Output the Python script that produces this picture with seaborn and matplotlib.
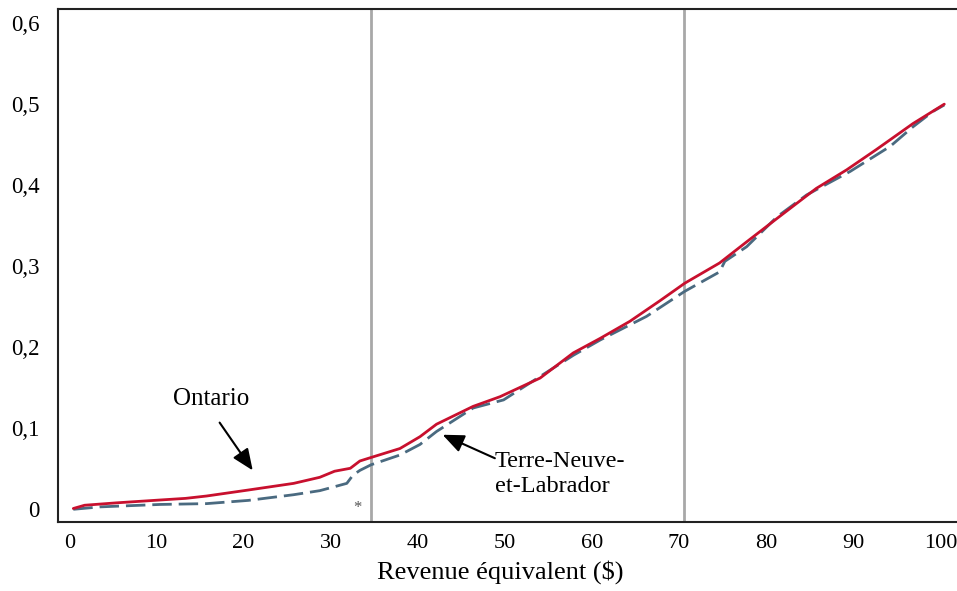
import matplotlib
matplotlib.use("Agg")
import matplotlib.pyplot as plt
import matplotlib.transforms as mtransforms
import seaborn as sns
import pandas as pd

# ---- data ----
ontario_x = [0, 1.3, 5, 10, 12.9, 15.3, 20.1, 25.3, 28.3, 30.0, 31.8, 32.9, 34.2, 37.5,
             39.8, 41.7, 45.9, 49.0, 53.6, 57.4, 60.5, 63.9, 67.3, 70.2, 74.2, 77.3,
             80.8, 85.3, 88.8, 92.2, 96.4, 100]
ontario_y = [0.001, 0.005, 0.008, 0.0115, 0.0135, 0.0164, 0.0238, 0.032, 0.0395, 0.047,
             0.0506, 0.0596, 0.064, 0.075, 0.0896, 0.105, 0.127, 0.139, 0.162, 0.193,
             0.211, 0.232, 0.257, 0.279, 0.304, 0.330, 0.359, 0.396, 0.419, 0.444,
             0.476, 0.500]
nl_x = [0, 3.1, 10, 15.3, 20.1, 25.3, 28.3, 31.4, 32.1, 32.9, 34.2, 37.5, 39.8, 41.7,
        45.9, 49.4, 53.6, 57.4, 60.5, 65.8, 70.2, 74.2, 74.8, 77.3, 80.8, 84.2, 89.2,
        93.8, 96.4, 98.7, 100]
nl_y = [0, 0.003, 0.006, 0.007, 0.011, 0.018, 0.023, 0.032, 0.042, 0.048, 0.055, 0.067,
        0.080, 0.096, 0.125, 0.135, 0.164, 0.190, 0.209, 0.238, 0.269, 0.293, 0.306,
        0.324, 0.361, 0.388, 0.417, 0.448, 0.472, 0.491, 0.499]
vlines_x = [34.2, 70.1]
x_ticks = list(range(0, 101, 10))
y_ticks = [0, 0.1, 0.2, 0.3, 0.4, 0.5, 0.6]
y_ticklabels = ["0", "0,1", "0,2", "0,3", "0,4", "0,5", "0,6"]
series_names = ["Ontario", "Terre-Neuve-\net-Labrador"]
xlabel = "Revenue équivalent ($)"

sns.set_style("white")
plt.rcParams['font.family'] = ['Liberation Serif', 'DejaVu Serif']
plt.rcParams['text.color'] = 'black'
plt.rcParams['axes.labelcolor'] = 'black'
plt.rcParams['xtick.color'] = 'black'
plt.rcParams['ytick.color'] = 'black'

df = pd.concat([
    pd.DataFrame({"x": ontario_x, "y": ontario_y, "s": "ON"}),
    pd.DataFrame({"x": nl_x, "y": nl_y, "s": "NL"}),
])

fig = plt.figure(figsize=(9.57, 5.91), dpi=100)
ax = fig.add_axes([58 / 957, (591 - 522) / 591, 1 - 58 / 957, (522 - 9) / 591])

for vx in vlines_x:
    ax.axvline(vx, color="#A8A8A8", lw=2, zorder=1)

sns.lineplot(data=df, x="x", y="y", hue="s", style="s",
             palette={"ON": "#C8102E", "NL": "#4A6A80"},
             dashes={"ON": "", "NL": (7, 2.5)},
             linewidth=2, legend=False, ax=ax, sort=False, estimator=None)
for line in ax.get_lines():
    if line.get_color() == "#C8102E":
        line.set_zorder(4)

ax.set_xlim((58 - 73.3) / 8.71, (957 - 73.3) / 8.71)
ax.set_ylim(-(522 - 509.3) / 810.3, (509.3 - 9) / 810.3)
ax.set_xticks(x_ticks)
ax.set_yticks(y_ticks)
ax.set_yticklabels(y_ticklabels)
ax.tick_params(axis="y", direction="in", length=7, width=1, labelsize=16.5, pad=13)
ax.tick_params(axis="x", direction="in", length=5, width=1, labelsize=16, pad=9)
shift = mtransforms.ScaledTranslation(-4 / 100, 0, fig.dpi_scale_trans)
for lab in ax.get_xticklabels():
    lab.set_transform(lab.get_transform() + shift)
ax.set_xlabel(xlabel, fontsize=19, labelpad=5)
ax.xaxis.set_label_coords(500 / 957 - 58 / 957, -0.085, transform=fig.transFigure) if False else None
ax.xaxis.label.set_x((500 - 58) / (957 - 58))
ax.set_ylabel("")

for side in ["left", "bottom", "top"]:
    ax.spines[side].set_visible(True)
    ax.spines[side].set_color("#222222")
    ax.spines[side].set_linewidth(1.5)
ax.spines["right"].set_visible(False)

arrow_kw = dict(arrowstyle="-|>,head_length=1.3,head_width=0.55", color="black",
                lw=1.5, mutation_scale=10, shrinkA=0, shrinkB=0)
ax.annotate("", xy=(20.6, 0.048), xytext=(16.8, 0.107), arrowprops=arrow_kw)
ax.text(15.8, 0.136, series_names[0], fontsize=18, ha="center", va="center")
ax.annotate("", xy=(42.4, 0.092), xytext=(48.4, 0.063), arrowprops=arrow_kw)
ax.text(48.4, 0.0435, series_names[1], fontsize=17.5, ha="left", va="center",
        linespacing=1.3)
ax.text(32.6, 0.0015, "*", fontsize=12, color="#555555", ha="center", va="center")

fig.savefig("out.png", dpi=100)
